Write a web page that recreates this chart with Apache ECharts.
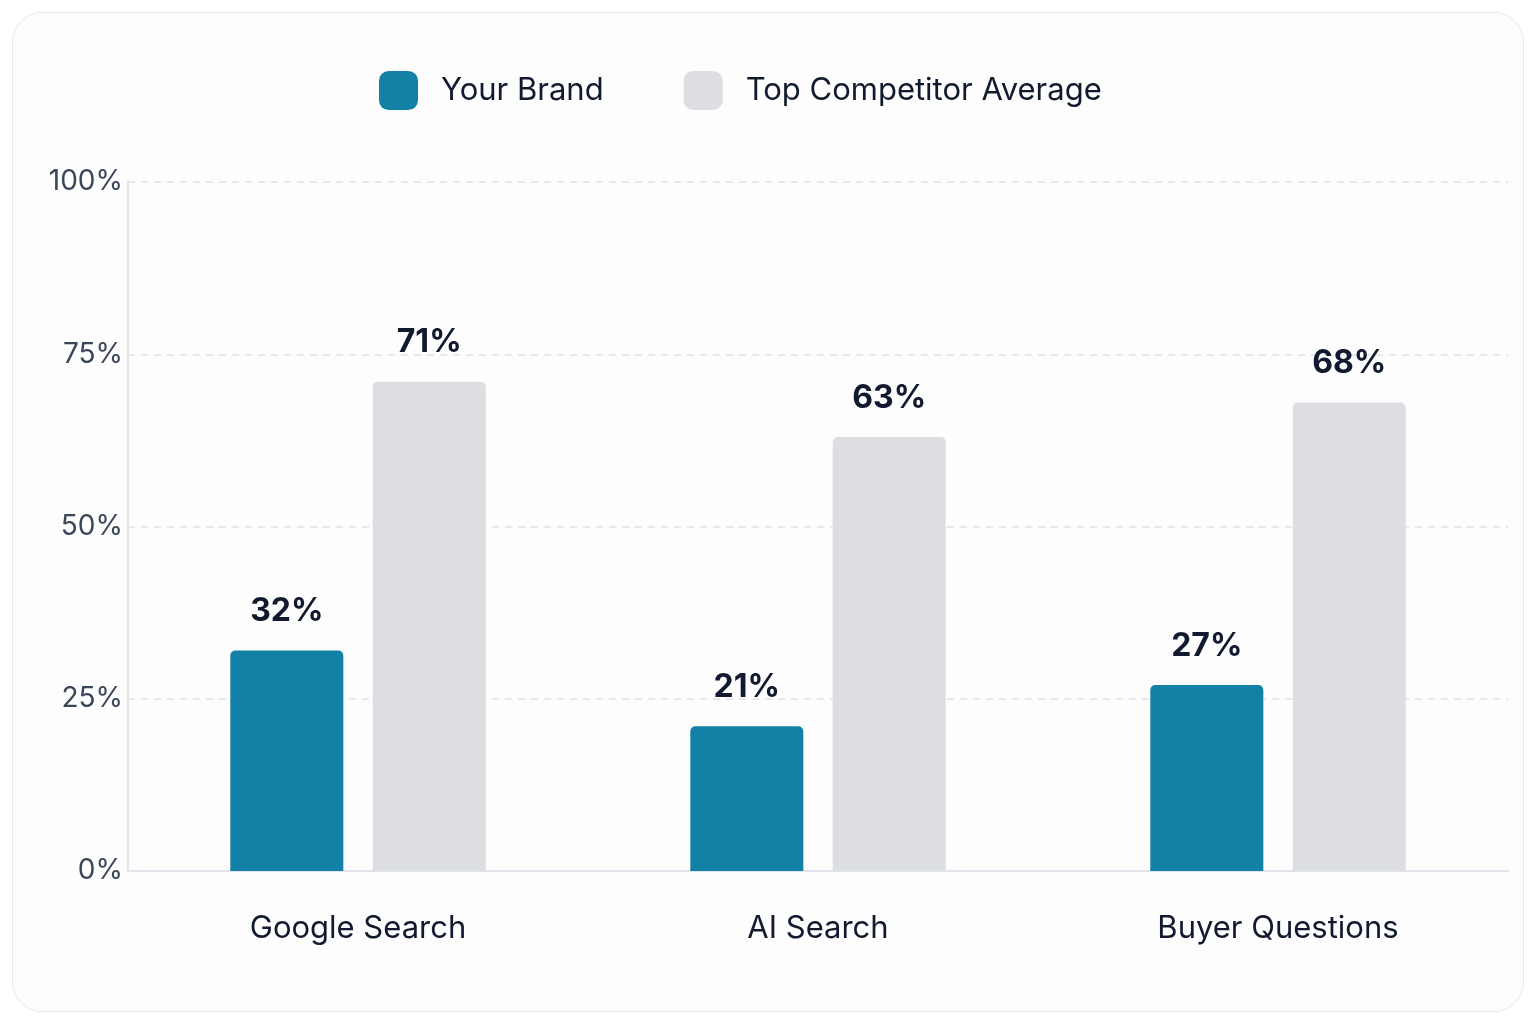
<!DOCTYPE html>
<html>
<head>
<meta charset="utf-8">
<script src="https://cdn.jsdelivr.net/npm/echarts@6/dist/echarts.min.js"></script>
<style>
  html, body { margin: 0; padding: 0; background: #ffffff; }
  #card {
    position: absolute; left: 12px; top: 12px; width: 1510px; height: 998px;
    border: 1px solid #e6e9ee; border-radius: 30px; background: #fdfdfe;
  }
  #main { position: absolute; left: 0; top: 0; width: 1536px; height: 1024px; }
</style>
</head>
<body>
<div id="card"></div>
<div id="main"></div>
<script>
// 数据
var categories = ['Google Search', 'AI Search', 'Buyer Questions'];
var seriesNames = ['Your Brand', 'Top Competitor Average'];
var brandValues = [32, 21, 27];
var competitorValues = [71, 63, 68];
var yTicks = [0, 25, 50, 75, 100];

var myChart = echarts.init(document.getElementById('main'));
window.onresize = myChart.resize;

var labelStyle = {
    show: true,
    position: 'top',
    distance: 23,
    formatter: '{c}%',
    fontFamily: 'Inter',
    fontSize: 32,
    fontWeight: 'bold',
    color: '#111a2e'
};

var option = {
    backgroundColor: 'transparent',
    legend: {
        left: 374,
        top: 66,
        itemWidth: 39,
        itemHeight: 39,
        itemGap: 80,
        icon: 'roundRect',
        data: seriesNames,
        textStyle: {
            fontFamily: 'Inter',
            fontSize: 31,
            color: '#111a2e',
            padding: [0, 0, 0, 18]
        }
    },
    grid: {
        left: 128,
        right: 28,
        top: 182,
        bottom: 153,
        containLabel: false
    },
    xAxis: {
        type: 'category',
        data: categories,
        axisLine: { show: true, lineStyle: { color: '#e1e5eb', width: 2 } },
        axisTick: { show: false },
        axisLabel: {
            margin: 42,
            fontFamily: 'Inter',
            fontSize: 31,
            color: '#111a2e'
        }
    },
    yAxis: {
        type: 'value',
        min: yTicks[0],
        max: yTicks[yTicks.length - 1],
        interval: yTicks[1] - yTicks[0],
        axisLine: { show: true, lineStyle: { color: '#e1e5eb', width: 2 } },
        axisTick: { show: false },
        splitLine: {
            show: true,
            lineStyle: { color: '#dde1e8', type: [7, 6], width: 1.5 }
        },
        axisLabel: {
            margin: 5,
            formatter: '{value}%',
            fontFamily: 'Inter',
            fontSize: 28,
            color: '#3b4658'
        }
    },
    series: [{
        name: seriesNames[0],
        type: 'bar',
        data: brandValues,
        barWidth: 113,
        barGap: '26%',
        itemStyle: { color: '#1380a5', borderRadius: [5, 5, 0, 0] },
        label: labelStyle
    }, {
        name: seriesNames[1],
        type: 'bar',
        data: competitorValues,
        barWidth: 113,
        barGap: '26%',
        itemStyle: { color: '#dcdee2', borderRadius: [5, 5, 0, 0] },
        label: labelStyle
    }]
};

myChart.setOption(option);
</script>
</body>
</html>
